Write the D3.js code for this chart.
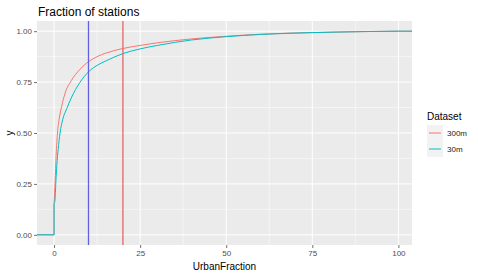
<!DOCTYPE html>
<html>
<head>
<meta charset="utf-8">
<script src="https://cdn.jsdelivr.net/npm/d3@7"></script>
<style>
  body { margin: 0; background: #fff; }
  text { font-family: "Liberation Sans", Arial, sans-serif; }
</style>
</head>
<body>
<svg id="chart" width="478" height="276"></svg>
<script>
// ECDF of urban fraction (first point is the jump at 0)
var datasets = ["300m", "30m"];
var colors = ["#F8766D", "#00BFC4"];

var x300 = [0, 0.3, 0.6, 1, 1.5, 2.2, 3.2, 5, 7.5, 10, 12.5, 15, 20, 25, 30, 40, 50, 60, 75, 90, 100];
var y300 = [0.15, 0.26, 0.39, 0.5, 0.57, 0.63, 0.695, 0.757, 0.812, 0.85, 0.875, 0.892, 0.915, 0.93, 0.943, 0.962, 0.975, 0.985, 0.993, 0.998, 1];

var x30 = [0, 0.3, 0.5, 0.8, 1.2, 1.74, 2.5, 3.7, 5, 7.5, 10, 12.5, 15.3, 20, 25, 30, 40, 50, 60, 75, 90, 100];
var y30 = [0.15, 0.176, 0.25, 0.34, 0.42, 0.5, 0.565, 0.62, 0.672, 0.748, 0.80, 0.832, 0.856, 0.89, 0.913, 0.93, 0.957, 0.973, 0.984, 0.993, 0.998, 1];

var vlines = [10, 20];
var vlineColors = ["#6060E0", "#E06868"];

var xTicks = [0, 25, 50, 75, 100];
var yTicks = [0, 0.25, 0.5, 0.75, 1];

var svg = d3.select("#chart");
var panel = {left: 37, top: 21, right: 412, bottom: 245};

var x = d3.scaleLinear().domain([-4.95, 103.95]).range([panel.left, panel.right]);
var y = d3.scaleLinear().domain([-0.05, 1.05]).range([panel.bottom, panel.top]);

// panel background
svg.append("rect")
    .attr("x", panel.left).attr("y", panel.top)
    .attr("width", panel.right - panel.left)
    .attr("height", panel.bottom - panel.top)
    .attr("fill", "#EBEBEB");

var grid = svg.append("g");
// minor grid
[12.5, 37.5, 62.5, 87.5].forEach(function(v) {
    grid.append("line").attr("x1", x(v)).attr("x2", x(v))
        .attr("y1", panel.top).attr("y2", panel.bottom)
        .attr("stroke", "#fff").attr("stroke-width", 0.5);
});
[0.125, 0.375, 0.625, 0.875].forEach(function(v) {
    grid.append("line").attr("y1", y(v)).attr("y2", y(v))
        .attr("x1", panel.left).attr("x2", panel.right)
        .attr("stroke", "#fff").attr("stroke-width", 0.5);
});
// major grid
xTicks.forEach(function(v) {
    grid.append("line").attr("x1", x(v)).attr("x2", x(v))
        .attr("y1", panel.top).attr("y2", panel.bottom)
        .attr("stroke", "#fff").attr("stroke-width", 1);
});
yTicks.forEach(function(v) {
    grid.append("line").attr("y1", y(v)).attr("y2", y(v))
        .attr("x1", panel.left).attr("x2", panel.right)
        .attr("stroke", "#fff").attr("stroke-width", 1);
});

// ecdf: flat/jump part drawn straight, the rest smoothed
function series(xs, ys) {
    return xs.map(function(v, i) { return [v, ys[i]]; });
}

var straight = d3.line()
    .x(function(d) { return x(d[0]); })
    .y(function(d) { return y(d[1]); });
var smooth = d3.line()
    .curve(d3.curveMonotoneX)
    .x(function(d) { return x(d[0]); })
    .y(function(d) { return y(d[1]); });

var allSeries = [series(x300, y300), series(x30, y30)];
var curves = svg.append("g");
allSeries.forEach(function(pts, i) {
    var first = pts[0];
    var last = pts[pts.length - 1];
    var d = straight([[x.domain()[0], 0], [first[0], 0], first]) +
            smooth(pts) +
            straight([last, [x.domain()[1], last[1]]]);
    curves.append("path")
        .attr("d", d)
        .attr("fill", "none")
        .attr("stroke", colors[i])
        .attr("stroke-width", 1);
});

// reference lines
svg.append("g")
    .selectAll("line")
    .data(vlines)
    .enter().append("line")
    .attr("x1", function(d) { return x(d); })
    .attr("x2", function(d) { return x(d); })
    .attr("y1", panel.top).attr("y2", panel.bottom)
    .attr("stroke", function(d, i) { return vlineColors[i]; })
    .attr("stroke-width", 1.3);

// axes
var xAxis = d3.axisBottom(x).tickValues(xTicks).tickSize(3).tickPadding(2)
    .tickFormat(d3.format("d"));
var gx = svg.append("g").attr("transform", "translate(0," + panel.bottom + ")").call(xAxis);
var yAxis = d3.axisLeft(y).tickValues(yTicks).tickSize(3).tickPadding(2)
    .tickFormat(d3.format(".2f"));
var gy = svg.append("g").attr("transform", "translate(" + panel.left + ",0)").call(yAxis);

[gx, gy].forEach(function(g) {
    g.select(".domain").remove();
    g.selectAll(".tick line").attr("stroke", "#333").attr("stroke-width", 0.7);
    g.selectAll(".tick text")
        .attr("fill", "#4D4D4D")
        .style("font-size", "8px")
        .style("font-family", "'Liberation Sans', Arial, sans-serif");
});

// titles
svg.append("text")
    .attr("x", panel.left + 1).attr("y", 16)
    .style("font-size", "12px")
    .attr("fill", "#000")
    .text("Fraction of stations");

svg.append("text")
    .attr("x", (panel.left + panel.right) / 2).attr("y", 270)
    .attr("text-anchor", "middle")
    .style("font-size", "10px")
    .text("UrbanFraction");

svg.append("text")
    .attr("transform", "translate(13," + ((panel.top + panel.bottom) / 2) + ")rotate(-90)")
    .attr("text-anchor", "middle")
    .style("font-size", "10px")
    .text("y");

// legend
var legend = svg.append("g").attr("transform", "translate(427,0)");
legend.append("text")
    .attr("x", 0).attr("y", 120)
    .style("font-size", "10px")
    .text("Dataset");

var keys = legend.selectAll("g.key")
    .data(datasets)
    .enter().append("g")
    .attr("class", "key")
    .attr("transform", function(d, i) { return "translate(0," + (125 + i * 16) + ")"; });

keys.append("rect")
    .attr("width", 16).attr("height", 16)
    .attr("fill", "#F2F2F2");
keys.append("line")
    .attr("x1", 2).attr("x2", 14)
    .attr("y1", 8).attr("y2", 8)
    .attr("stroke", function(d, i) { return colors[i]; })
    .attr("stroke-width", 1);
keys.append("text")
    .attr("x", 20).attr("y", 11)
    .style("font-size", "8px")
    .attr("fill", "#222")
    .text(function(d) { return d; });
</script>
</body>
</html>
